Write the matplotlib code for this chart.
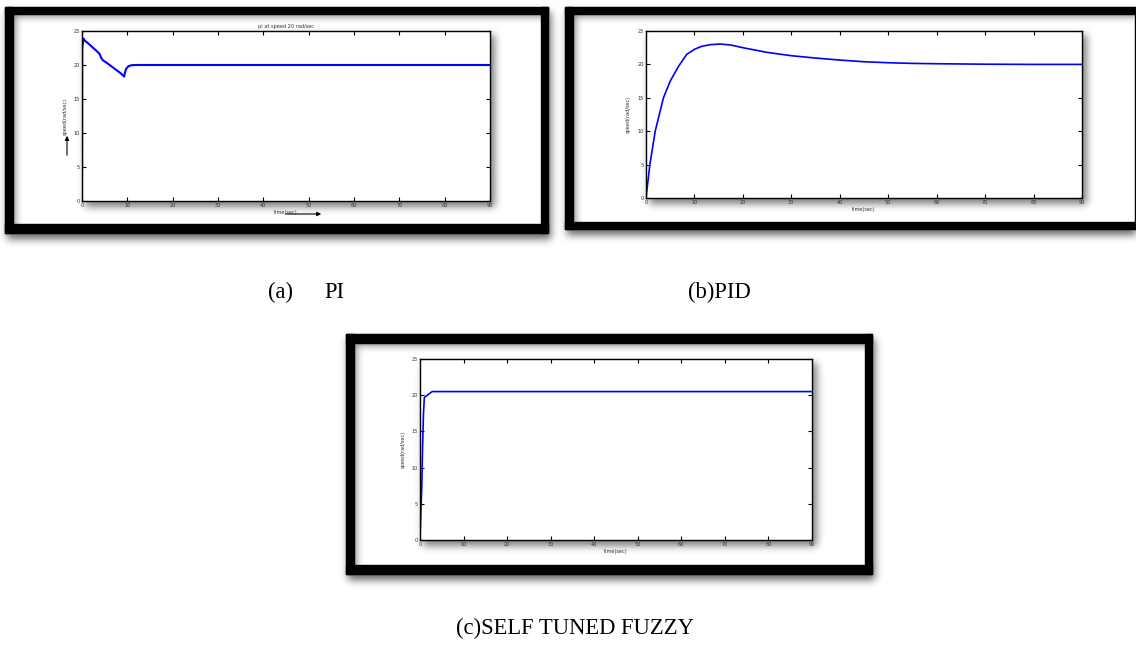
import numpy as np
import matplotlib
matplotlib.use("Agg")
import matplotlib.pyplot as plt
from matplotlib.patches import Rectangle

# ---------------- data ----------------
t_pi = [0, 0.05, 0.3, 0.6, 1.5, 2.5, 3.5, 3.9, 4.2, 4.6, 5.5, 6.5, 7.5, 8.5,
        9.3, 9.45, 9.7, 10.2, 10.8, 11.5, 12.5, 20, 30, 40, 50, 60, 70, 80, 90]
speed_pi = [0, 22.5, 23.9, 23.6, 23.1, 22.5, 21.9, 21.6, 21.1, 20.7, 20.3, 19.8,
            19.3, 18.8, 18.3, 18.8, 19.4, 19.8, 19.95, 20.0, 20.0, 20.0, 20.0,
            20.0, 20.0, 20.0, 20.0, 20.0, 20.0]

t_pid = [0, 0.8, 1.9, 3.6, 5.0, 6.7, 8.4, 10.1, 11.5, 13.2, 15.3, 17.5, 20, 25,
         30, 35, 40, 45, 50, 55, 60, 70, 80, 90]
speed_pid = [0, 5.0, 10.0, 15.0, 17.5, 19.7, 21.5, 22.3, 22.7, 22.95, 23.05, 22.9,
             22.5, 21.8, 21.3, 20.95, 20.65, 20.4, 20.25, 20.15, 20.1, 20.03,
             20.0, 20.0]

t_fuzzy = [0, 0.2, 0.4, 0.6, 0.8, 1.0, 2.8, 10, 90]
speed_fuzzy = [0, 4.0, 7.2, 13.0, 17.5, 19.7, 20.5, 20.5, 20.5]

x_ticks = [0, 10, 20, 30, 40, 50, 60, 70, 80, 90]
y_ticks = [0, 5, 10, 15, 20, 25]
captions = ["(a)", "PI", "(b)PID", "(c)SELF TUNED FUZZY"]
title_pi = "pi at speed 20 rad/sec"
ylab = "speed(rad/sec)"
xlab = "time(sec)"

# ---------------- layout (pixels) ----------------
W, H = 1136, 646
fig = plt.figure(figsize=(W / 100, H / 100), dpi=100)
bg = fig.add_axes([0, 0, 1, 1], zorder=0)
bg.set_xlim(0, W)
bg.set_ylim(H, 0)
bg.axis("off")

# (outer box, inner box) of the black frames
frames = [((5, 7, 548, 233), (13, 14, 541, 224)),
          ((565, 7, 1143, 229), (573, 14, 1135, 222)),
          ((346, 334, 872, 574), (354, 343, 865, 565))]
axes_px = [(82, 31, 490, 201), (646, 31, 1082, 198), (420, 359, 812, 540)]


def gblur(a, s):
    r = int(3 * s)
    xx = np.arange(-r, r + 1)
    k = np.exp(-xx ** 2 / (2 * s * s))
    k /= k.sum()
    a = np.apply_along_axis(lambda v: np.convolve(v, k, mode="same"), 0, a)
    a = np.apply_along_axis(lambda v: np.convolve(v, k, mode="same"), 1, a)
    return a


def rmask(x0, y0, x1, y1):
    m = np.zeros((H, W))
    m[max(y0, 0):min(y1, H), max(x0, 0):min(x1, W)] = 1
    return m


shade = np.zeros((H, W))
for (o, i) in frames:
    drop = gblur(rmask(o[0] + 2, o[1] + 5, o[2] + 3, o[3] + 6), 4) * 0.6
    shade += drop * (1 - rmask(*o))
    inn = gblur(1 - rmask(i[0] + 3, i[1] + 3, i[2] + 40, i[3] + 40), 3.5) * 0.45
    shade += inn * rmask(*i)
for a in axes_px:
    drop = gblur(rmask(a[0] + 3, a[1] + 4, a[2] + 5, a[3] + 6), 4) * 0.5
    shade += drop * (1 - rmask(*a))
shade = np.clip(shade, 0, 0.85)
bg.imshow(1 - shade, cmap="gray", vmin=0, vmax=1, extent=(0, W, H, 0),
          interpolation="bilinear", aspect="auto", zorder=0)

for (o, i) in frames:
    for (x0, y0, x1, y1) in [(o[0], o[1], o[2], i[1]), (o[0], i[3], o[2], o[3]),
                             (o[0], o[1], i[0], o[3]), (i[2], o[1], o[2], o[3])]:
        bg.add_patch(Rectangle((x0, y0), x1 - x0, y1 - y0, color="black", zorder=1))

# ---------------- plots ----------------
series = [(t_pi, speed_pi), (t_pid, speed_pid), (t_fuzzy, speed_fuzzy)]
line_widths = [1.5, 1.2, 1.2]
label_pads = [4, 5, 4]
axes = []
for k, ((x0, y0, x1, y1), (tt, vv)) in enumerate(zip(axes_px, series)):
    ax = fig.add_axes([x0 / W, 1 - y1 / H, (x1 - x0) / W, (y1 - y0) / H], zorder=2)
    ax.plot(tt, vv, color="#0000ff", lw=line_widths[k])
    ax.set_xlim(0, 90)
    ax.set_ylim(0, 25)
    ax.set_xticks(x_ticks)
    ax.set_yticks(y_ticks)
    ax.tick_params(direction="in", length=3, width=0.8, labelsize=3.6,
                   top=True, right=True, pad=1.5, labelcolor="#333333")
    for s in ax.spines.values():
        s.set_linewidth(1.0)
    ax.set_ylabel(ylab, fontsize=3.6, labelpad=label_pads[k], color="#333333")
    ax.set_xlabel(xlab, fontsize=3.6, labelpad=1.5, color="#333333")
    axes.append(ax)

axes[0].set_title(title_pi, fontsize=3.6, pad=2, color="#333333")

# arrows in panel (a)
bg.annotate("", xy=(67, 133), xytext=(67, 158),
            arrowprops=dict(arrowstyle="-|>", color="black", lw=0.8,
                            mutation_scale=6), zorder=3)
bg.annotate("", xy=(324, 214), xytext=(283, 214),
            arrowprops=dict(arrowstyle="-|>", color="black", lw=0.8,
                            mutation_scale=6), zorder=3)

# captions
cap = dict(fontfamily="Liberation Serif", fontsize=16.3, va="center", color="black")
bg.text(268, 292, captions[0], ha="left", **cap)
bg.text(345, 292, captions[1], ha="right", **cap)
bg.text(688, 292, captions[2], ha="left", **cap)
bg.text(575, 628, captions[3], ha="center", **cap)

fig.savefig("out.png", dpi=100)
